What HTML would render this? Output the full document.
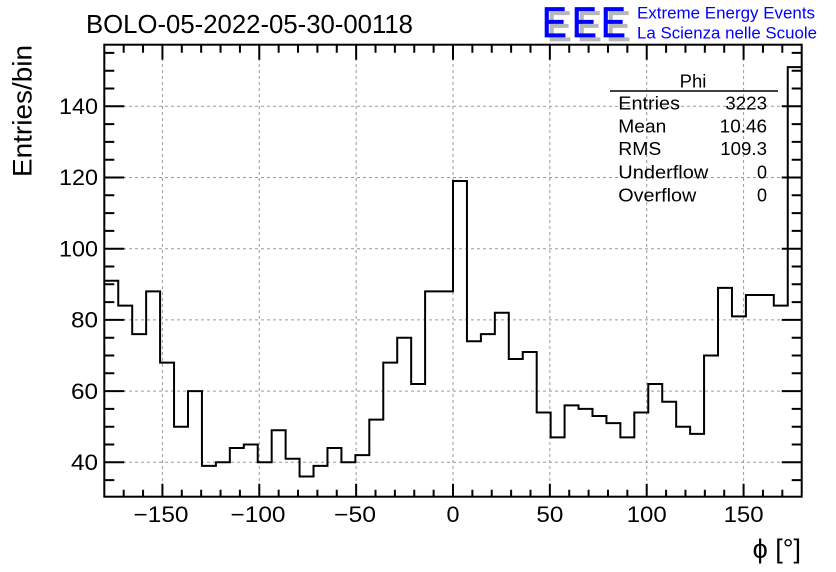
<!DOCTYPE html>
<html><head><meta charset="utf-8"><style>
html,body{margin:0;padding:0;background:#fff;}
svg{display:block;}
text{font-family:"Liberation Sans",Arial,sans-serif;fill:#000;}
</style></head><body>
<svg width="836" height="572" viewBox="0 0 836 572" xmlns="http://www.w3.org/2000/svg">
<rect width="836" height="572" fill="#fff"/>
<!-- grid -->
<g stroke="#9a9a9a" stroke-width="1" stroke-dasharray="3,3" fill="none">
<path d="M162.42 46V496M259.28 46V496M356.14 46V496M453 46V496M549.86 46V496M646.72 46V496M743.58 46V496"/>
<path d="M105 462.3H801M105 391.1H801M105 319.9H801M105 248.7H801M105 177.5H801M105 106.3H801"/>
</g>
<!-- histogram -->
<path fill="none" stroke="#000" stroke-width="2" d="M104.3 280.74 H118.25 V305.66 H132.2 V334.14 H146.14 V291.42 H160.09 V362.62 H174.04 V426.7 H187.99 V391.1 H201.94 V465.86 H215.88 V462.3 H229.83 V448.06 H243.78 V444.5 H257.73 V462.3 H271.68 V430.26 H285.62 V458.74 H299.57 V476.54 H313.52 V465.86 H327.47 V448.06 H341.42 V462.3 H355.36 V455.18 H369.31 V419.58 H383.26 V362.62 H397.21 V337.7 H411.16 V383.98 H425.1 V291.42 H453 V181.06 H466.95 V341.26 H480.9 V334.14 H494.84 V312.78 H508.79 V359.06 H522.74 V351.94 H536.69 V412.46 H550.64 V437.38 H564.58 V405.34 H578.53 V408.9 H592.48 V416.02 H606.43 V423.14 H620.38 V437.38 H634.32 V412.46 H648.27 V383.98 H662.22 V401.78 H676.17 V426.7 H690.12 V433.82 H704.06 V355.5 H718.01 V287.86 H731.96 V316.34 H745.91 V294.98 H773.8 V305.66 H787.75 V67.14 H801.7"/>
<!-- frame -->
<rect x="104.3" y="44.7" width="697.4" height="452" fill="none" stroke="#000" stroke-width="2"/>
<!-- ticks -->
<g stroke="#000" stroke-width="2" fill="none">
<path d="M104.3 462.3H124.3M104.3 391.1H124.3M104.3 319.9H124.3M104.3 248.7H124.3M104.3 177.5H124.3M104.3 106.3H124.3"/>
<path d="M104.3 480.1H114.3M104.3 444.5H114.3M104.3 426.7H114.3M104.3 408.9H114.3M104.3 373.3H114.3M104.3 355.5H114.3M104.3 337.7H114.3M104.3 302.1H114.3M104.3 284.3H114.3M104.3 266.5H114.3M104.3 230.9H114.3M104.3 213.1H114.3M104.3 195.3H114.3M104.3 159.7H114.3M104.3 141.9H114.3M104.3 124.1H114.3M104.3 88.5H114.3M104.3 70.7H114.3M104.3 52.9H114.3"/>
<path d="M801.7 462.3H781.7M801.7 391.1H781.7M801.7 319.9H781.7M801.7 248.7H781.7M801.7 177.5H781.7M801.7 106.3H781.7"/>
<path d="M801.7 480.1H791.7M801.7 444.5H791.7M801.7 426.7H791.7M801.7 408.9H791.7M801.7 373.3H791.7M801.7 355.5H791.7M801.7 337.7H791.7M801.7 302.1H791.7M801.7 284.3H791.7M801.7 266.5H791.7M801.7 230.9H791.7M801.7 213.1H791.7M801.7 195.3H791.7M801.7 159.7H791.7M801.7 141.9H791.7M801.7 124.1H791.7M801.7 88.5H791.7M801.7 70.7H791.7M801.7 52.9H791.7"/>
<path d="M162.42 496.7V483.7M259.28 496.7V483.7M356.14 496.7V483.7M453 496.7V483.7M549.86 496.7V483.7M646.72 496.7V483.7M743.58 496.7V483.7"/>
<path d="M123.68 496.7V489.7M143.05 496.7V489.7M181.79 496.7V489.7M201.16 496.7V489.7M220.54 496.7V489.7M239.91 496.7V489.7M278.65 496.7V489.7M298.02 496.7V489.7M317.4 496.7V489.7M336.77 496.7V489.7M375.51 496.7V489.7M394.88 496.7V489.7M414.26 496.7V489.7M433.63 496.7V489.7M472.37 496.7V489.7M491.74 496.7V489.7M511.12 496.7V489.7M530.49 496.7V489.7M569.23 496.7V489.7M588.6 496.7V489.7M607.98 496.7V489.7M627.35 496.7V489.7M666.09 496.7V489.7M685.46 496.7V489.7M704.84 496.7V489.7M724.21 496.7V489.7M762.95 496.7V489.7M782.32 496.7V489.7"/>
<path d="M162.42 44.7V59.7M259.28 44.7V59.7M356.14 44.7V59.7M453 44.7V59.7M549.86 44.7V59.7M646.72 44.7V59.7M743.58 44.7V59.7"/>
<path d="M123.68 44.7V52.7M143.05 44.7V52.7M181.79 44.7V52.7M201.16 44.7V52.7M220.54 44.7V52.7M239.91 44.7V52.7M278.65 44.7V52.7M298.02 44.7V52.7M317.4 44.7V52.7M336.77 44.7V52.7M375.51 44.7V52.7M394.88 44.7V52.7M414.26 44.7V52.7M433.63 44.7V52.7M472.37 44.7V52.7M491.74 44.7V52.7M511.12 44.7V52.7M530.49 44.7V52.7M569.23 44.7V52.7M588.6 44.7V52.7M607.98 44.7V52.7M627.35 44.7V52.7M666.09 44.7V52.7M685.46 44.7V52.7M704.84 44.7V52.7M724.21 44.7V52.7M762.95 44.7V52.7M782.32 44.7V52.7"/>
</g>
<!-- y tick labels -->
<g font-size="22" text-anchor="end">
<text x="98" y="470" textLength="27" lengthAdjust="spacingAndGlyphs">40</text>
<text x="98" y="398.8" textLength="27" lengthAdjust="spacingAndGlyphs">60</text>
<text x="98" y="327.6" textLength="27" lengthAdjust="spacingAndGlyphs">80</text>
<text x="98" y="256.4" textLength="39" lengthAdjust="spacingAndGlyphs">100</text>
<text x="98" y="185.2" textLength="39" lengthAdjust="spacingAndGlyphs">120</text>
<text x="98" y="114" textLength="39" lengthAdjust="spacingAndGlyphs">140</text>
</g>
<!-- x tick labels -->
<g font-size="22" text-anchor="middle">
<text x="161" y="522" textLength="55" lengthAdjust="spacingAndGlyphs">−150</text>
<text x="258" y="522" textLength="55" lengthAdjust="spacingAndGlyphs">−100</text>
<text x="355" y="522" textLength="42" lengthAdjust="spacingAndGlyphs">−50</text>
<text x="453" y="522" textLength="13" lengthAdjust="spacingAndGlyphs">0</text>
<text x="549.86" y="522" textLength="27" lengthAdjust="spacingAndGlyphs">50</text>
<text x="646.72" y="522" textLength="40" lengthAdjust="spacingAndGlyphs">100</text>
<text x="743.58" y="522" textLength="40" lengthAdjust="spacingAndGlyphs">150</text>
</g>
<!-- axis titles -->
<text x="801" y="558" font-size="27" text-anchor="end" font-family="Liberation Serif, DejaVu Serif, serif">ϕ <tspan font-family="Liberation Sans, sans-serif">[°]</tspan></text>
<text transform="translate(31.7,177) rotate(-90)" x="0" y="0" font-size="26.5" textLength="132" lengthAdjust="spacingAndGlyphs">Entries/bin</text>
<!-- title -->
<text x="86" y="33" font-size="25.6" textLength="327" lengthAdjust="spacingAndGlyphs">BOLO-05-2022-05-30-00118</text>
<!-- stats box -->
<line x1="610" y1="91" x2="778" y2="91" stroke="#000" stroke-width="1.6"/>
<g font-size="18">
<text x="693" y="87.3" text-anchor="middle" textLength="26.7" lengthAdjust="spacingAndGlyphs">Phi</text>
<text x="618.3" y="109.3" textLength="61.7" lengthAdjust="spacingAndGlyphs">Entries</text>
<text x="618.3" y="132.7" textLength="48" lengthAdjust="spacingAndGlyphs">Mean</text>
<text x="618.3" y="155" textLength="43" lengthAdjust="spacingAndGlyphs">RMS</text>
<text x="618.3" y="178.3" textLength="90" lengthAdjust="spacingAndGlyphs">Underflow</text>
<text x="618.3" y="201.7" textLength="78" lengthAdjust="spacingAndGlyphs">Overflow</text>
</g>
<g font-size="18" text-anchor="end">
<text x="767" y="109.3" textLength="41.7" lengthAdjust="spacingAndGlyphs">3223</text>
<text x="767" y="132.7" textLength="47.3" lengthAdjust="spacingAndGlyphs">10.46</text>
<text x="767" y="155" textLength="46.7" lengthAdjust="spacingAndGlyphs">109.3</text>
<text x="767" y="178.3" textLength="10" lengthAdjust="spacingAndGlyphs">0</text>
<text x="767" y="201.7" textLength="10" lengthAdjust="spacingAndGlyphs">0</text>
</g>
<!-- EEE logo -->
<g font-size="42">
<text transform="translate(547,41) scale(0.88,1.02)" x="0" y="0" style="fill:#b8b8b8;stroke:#b8b8b8;stroke-width:0.8">E</text>
<text transform="translate(577,41) scale(0.88,1.02)" x="0" y="0" style="fill:#b8b8b8;stroke:#b8b8b8;stroke-width:0.8">E</text>
<text transform="translate(606,41) scale(0.88,1.02)" x="0" y="0" style="fill:#b8b8b8;stroke:#b8b8b8;stroke-width:0.8">E</text>
<text transform="translate(542,37) scale(0.88,1.02)" x="0" y="0" style="fill:#0000ff;stroke:#0000ff;stroke-width:0.8">E</text>
<text transform="translate(572,37) scale(0.88,1.02)" x="0" y="0" style="fill:#0000ff;stroke:#0000ff;stroke-width:0.8">E</text>
<text transform="translate(601,37) scale(0.88,1.02)" x="0" y="0" style="fill:#0000ff;stroke:#0000ff;stroke-width:0.8">E</text>
</g>
<text x="637" y="18.5" font-size="17" textLength="178" lengthAdjust="spacingAndGlyphs" style="fill:#0000ff">Extreme Energy Events</text>
<text x="637" y="38.5" font-size="17" textLength="180" lengthAdjust="spacingAndGlyphs" style="fill:#0000ff">La Scienza nelle Scuole</text>
</svg>
</body></html>
